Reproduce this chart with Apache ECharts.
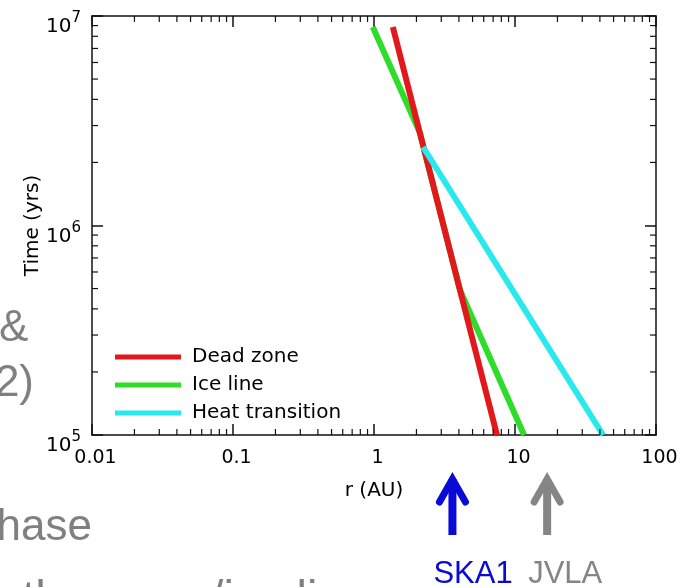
<!DOCTYPE html>
<html>
<head>
<meta charset="utf-8">
<script src="https://cdn.jsdelivr.net/npm/echarts@6/dist/echarts.min.js"></script>
<style>
  html, body { margin: 0; padding: 0; background: #fff; }
  #chart { width: 689px; height: 587px; }
</style>
</head>
<body>
<div id="chart"></div>
<script>
// [r (AU), time (yrs)]
const deadZone = [[1.36, 8.86e6], [7.45, 1e5]]
const iceLine = [[0.98, 8.86e6], [2.12, 2.76e6], [4.07, 4.92e5], [11.6, 1e5]]
const heatTransition = [[2.23, 2.37e6], [42.1, 1e5]]

const seriesNames = ['Dead zone', 'Ice line', 'Heat transition']
const seriesColors = ['#e2191c', '#2fdc2a', '#27e9ee']

// log axis ranges
const xRange = [0.01, 100]
const yRange = [1e5, 1e7]
const minorSteps = [2, 3, 4, 5, 6, 7, 8, 9]

// telescopes pointing at radii under the axis
const telescopes = ['SKA1', 'JVLA']
const telescopeR = [3.6, 16.9]
const telescopeColors = ['#0a0ad8', '#858585']

const FONT = 'DejaVu Sans'
const SLIDE_FONT = 'Liberation Sans'
const INK = '#000'

const chart = echarts.init(document.getElementById('chart'))

function xLabel(v) {
  const e = Math.round(Math.log10(v))
  return e >= 0 ? String(Math.pow(10, e)) : Math.pow(10, e).toFixed(-e)
}

function logAxis(range, pos, extra) {
  return Object.assign({
    type: 'log',
    logBase: 10,
    min: range[0],
    max: range[1],
    position: pos,
    axisLine: { show: true, onZero: false, lineStyle: { color: '#111', width: 1.5 } },
    axisTick: { show: true, inside: true, length: 11, lineStyle: { color: '#111', width: 1.5 } },
    splitLine: { show: false },
    axisLabel: { show: false }
  }, extra)
}

const option = {
  animation: false,
  backgroundColor: '#fff',
  grid: { left: 92, top: 16, right: 33, bottom: 152 },
  legend: {
    data: seriesNames,
    orient: 'vertical',
    left: 110,
    top: 342,
    icon: 'rect',
    itemWidth: 66,
    itemHeight: 5,
    itemGap: 8,
    textStyle: { fontFamily: FONT, fontSize: 20, color: INK, padding: [0, 0, 0, 6], lineHeight: 20 }
  },
  xAxis: [
    logAxis(xRange, 'bottom', {
      name: 'r (AU)',
      nameLocation: 'middle',
      nameGap: 46,
      nameTextStyle: { fontFamily: FONT, fontSize: 20, color: INK },
      axisLabel: { show: true, fontFamily: FONT, fontSize: 19, color: INK, margin: 14, padding: [0, 0, 0, 7], formatter: xLabel }
    }),
    logAxis(xRange, 'top')
  ],
  yAxis: [
    logAxis(yRange, 'left', {
      axisLabel: {
        show: true,
        margin: 11,
        formatter: v => '{b|10}{s|' + Math.round(Math.log10(v)) + '}',
        rich: {
          b: { fontFamily: FONT, fontSize: 20, color: INK, lineHeight: 42, verticalAlign: 'bottom' },
          s: { fontFamily: FONT, fontSize: 15, color: INK, lineHeight: 42, verticalAlign: 'bottom', padding: [0, 0, 11, 0] }
        }
      }
    }),
    logAxis(yRange, 'right')
  ],
  series: [
    // ice line first so the dead zone covers it where they coincide
    { name: 'Ice line', type: 'line', data: iceLine, color: seriesColors[1] },
    { name: 'Dead zone', type: 'line', data: deadZone, color: seriesColors[0] },
    { name: 'Heat transition', type: 'line', data: heatTransition, color: seriesColors[2] }
  ].map(s => Object.assign(s, { symbol: 'none', showSymbol: false, lineStyle: { width: 6, color: s.color }, z: 3 }))
}

chart.setOption(option)

// minor log ticks on all four sides, placed through the axis scales
const px = (x, y) => chart.convertToPixel({ gridIndex: 0 }, [x, y])
const graphics = []
const [gl, gb] = px(xRange[0], yRange[0])
const [gr, gt] = px(xRange[1], yRange[1])
const tickLine = (x1, y1, x2, y2) => ({
  type: 'line', silent: true, z: 5,
  shape: { x1, y1, x2, y2 },
  style: { stroke: '#111', lineWidth: 1.2 }
})
for (let d = Math.log10(xRange[0]); d < Math.log10(xRange[1]); d++) {
  minorSteps.forEach(m => {
    const x = px(m * Math.pow(10, d), yRange[0])[0]
    graphics.push(tickLine(x, gb, x, gb - 6), tickLine(x, gt, x, gt + 6))
  })
}
for (let d = Math.log10(yRange[0]); d < Math.log10(yRange[1]); d++) {
  minorSteps.forEach(m => {
    const y = px(xRange[0], m * Math.pow(10, d))[1]
    graphics.push(tickLine(gl, y, gl + 6, y), tickLine(gr, y, gr - 6, y))
  })
}

// y axis title, centred on the plot height
graphics.push({
  type: 'text', silent: true,
  x: gl - 59, y: (gt + gb) / 2, rotation: Math.PI / 2,
  style: { text: 'Time (yrs)', fill: INK, font: '20px "' + FONT + '"', align: 'center', verticalAlign: 'middle' }
})

// telescope arrows and labels
telescopes.forEach((name, i) => {
  const x = px(telescopeR[i], yRange[0])[0]
  const c = telescopeColors[i]
  graphics.push({
    type: 'line', silent: true,
    shape: { x1: x, y1: 535, x2: x, y2: 479 },
    style: { stroke: c, lineWidth: 8 }
  })
  graphics.push({
    type: 'polyline', silent: true,
    shape: { points: [[x - 13, 502], [x, 479], [x + 13, 502]] },
    style: { stroke: c, lineWidth: 7, lineCap: 'round', lineJoin: 'miter', fill: null }
  })
  graphics.push({
    type: 'text', silent: true,
    x: x - 19, y: 574,
    style: { text: name, fill: c, font: '31px "' + SLIDE_FONT + '"', verticalAlign: 'middle', align: 'left' }
  })
})

// leftover slide text around the figure
const slideText = (text, x, y, align, size) => ({
  type: 'text', silent: true, x, y,
  style: { text, fill: '#808080', font: size + 'px "' + SLIDE_FONT + '"', verticalAlign: 'middle', align }
})
graphics.push(slideText('&', -1, 329, 'left', 44))
graphics.push(slideText('2012)', 34, 384, 'right', 44))
graphics.push(slideText('phase', 92, 528, 'right', 44))
graphics.push(slideText('to the snow/ice line', -30, 600, 'left', 47))

chart.setOption({ graphic: graphics })
</script>
</body>
</html>
